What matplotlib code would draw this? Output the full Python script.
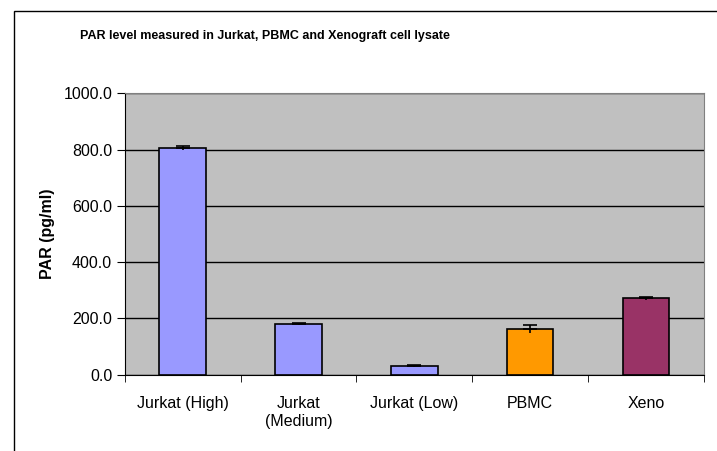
import matplotlib.pyplot as plt
from matplotlib.patches import Rectangle
import numpy as np

plt.rcParams['font.family'] = ['Liberation Sans', 'DejaVu Sans']

categorias = ["Jurkat (High)", "Jurkat\n(Medium)", "Jurkat (Low)", "PBMC", "Xeno"]
valores = [806, 181, 31, 163, 271]
erros = [7, 4, 2, 14, 5]
cores = ["#9999FF", "#9999FF", "#9999FF", "#FF9900", "#993366"]

fig = plt.figure(figsize=(7.17, 4.51), dpi=100)
ax = fig.add_axes([0.1739, 0.1692, 0.8081, 0.6239])

# moldura externa do grafico (estilo Excel)
fig.patches.append(Rectangle((14 / 717, -0.5), 2, 1.5 - 11 / 451, transform=fig.transFigure,
                             fill=False, edgecolor="black", linewidth=1))

x = np.arange(len(categorias))
ax.set_facecolor("#C0C0C0")
ax.set_axisbelow(True)
ax.yaxis.grid(True, color="black", linewidth=1)
ax.bar(x, valores, width=0.4, color=cores, edgecolor="black", linewidth=1.2, zorder=2)
ax.errorbar(x, valores, yerr=[np.zeros(len(erros)), erros], fmt="none", ecolor="black",
            elinewidth=1.2, capsize=5, capthick=1.2, zorder=3)
ax.vlines(x, np.array(valores) - np.array(erros), valores, color="black", linewidth=1.2, zorder=3)

ax.set_xlim(-0.5, len(categorias) - 0.5)
ax.set_ylim(0, 1000)
ax.set_yticks(np.arange(0, 1001, 200))
ax.set_yticklabels([f"{v:.1f}" for v in np.arange(0, 1001, 200)], fontsize=11.5)
ax.set_xticks(x)
ax.set_xticklabels(categorias, fontsize=11.5, linespacing=1.25)
ax.set_xticks(np.arange(-0.5, len(categorias), 1), minor=True)
ax.tick_params(axis="x", which="major", length=0, pad=15)
ax.tick_params(axis="x", which="minor", length=5, direction="out", color="black")
ax.tick_params(axis="y", length=6, direction="out", pad=3)

ax.spines["left"].set_color("black")
ax.spines["bottom"].set_color("black")
ax.spines["top"].set_color("#808080")
ax.spines["right"].set_color("#808080")

ax.set_ylabel("PAR (pg/ml)", fontsize=11.5, fontweight="bold", labelpad=6)
fig.text(265 / 717, 1 - 36 / 451, "PAR level measured in Jurkat, PBMC and Xenograft cell lysate",
         fontsize=9, fontweight="bold", ha="center", va="center")

fig.savefig("out.png", dpi=100)
